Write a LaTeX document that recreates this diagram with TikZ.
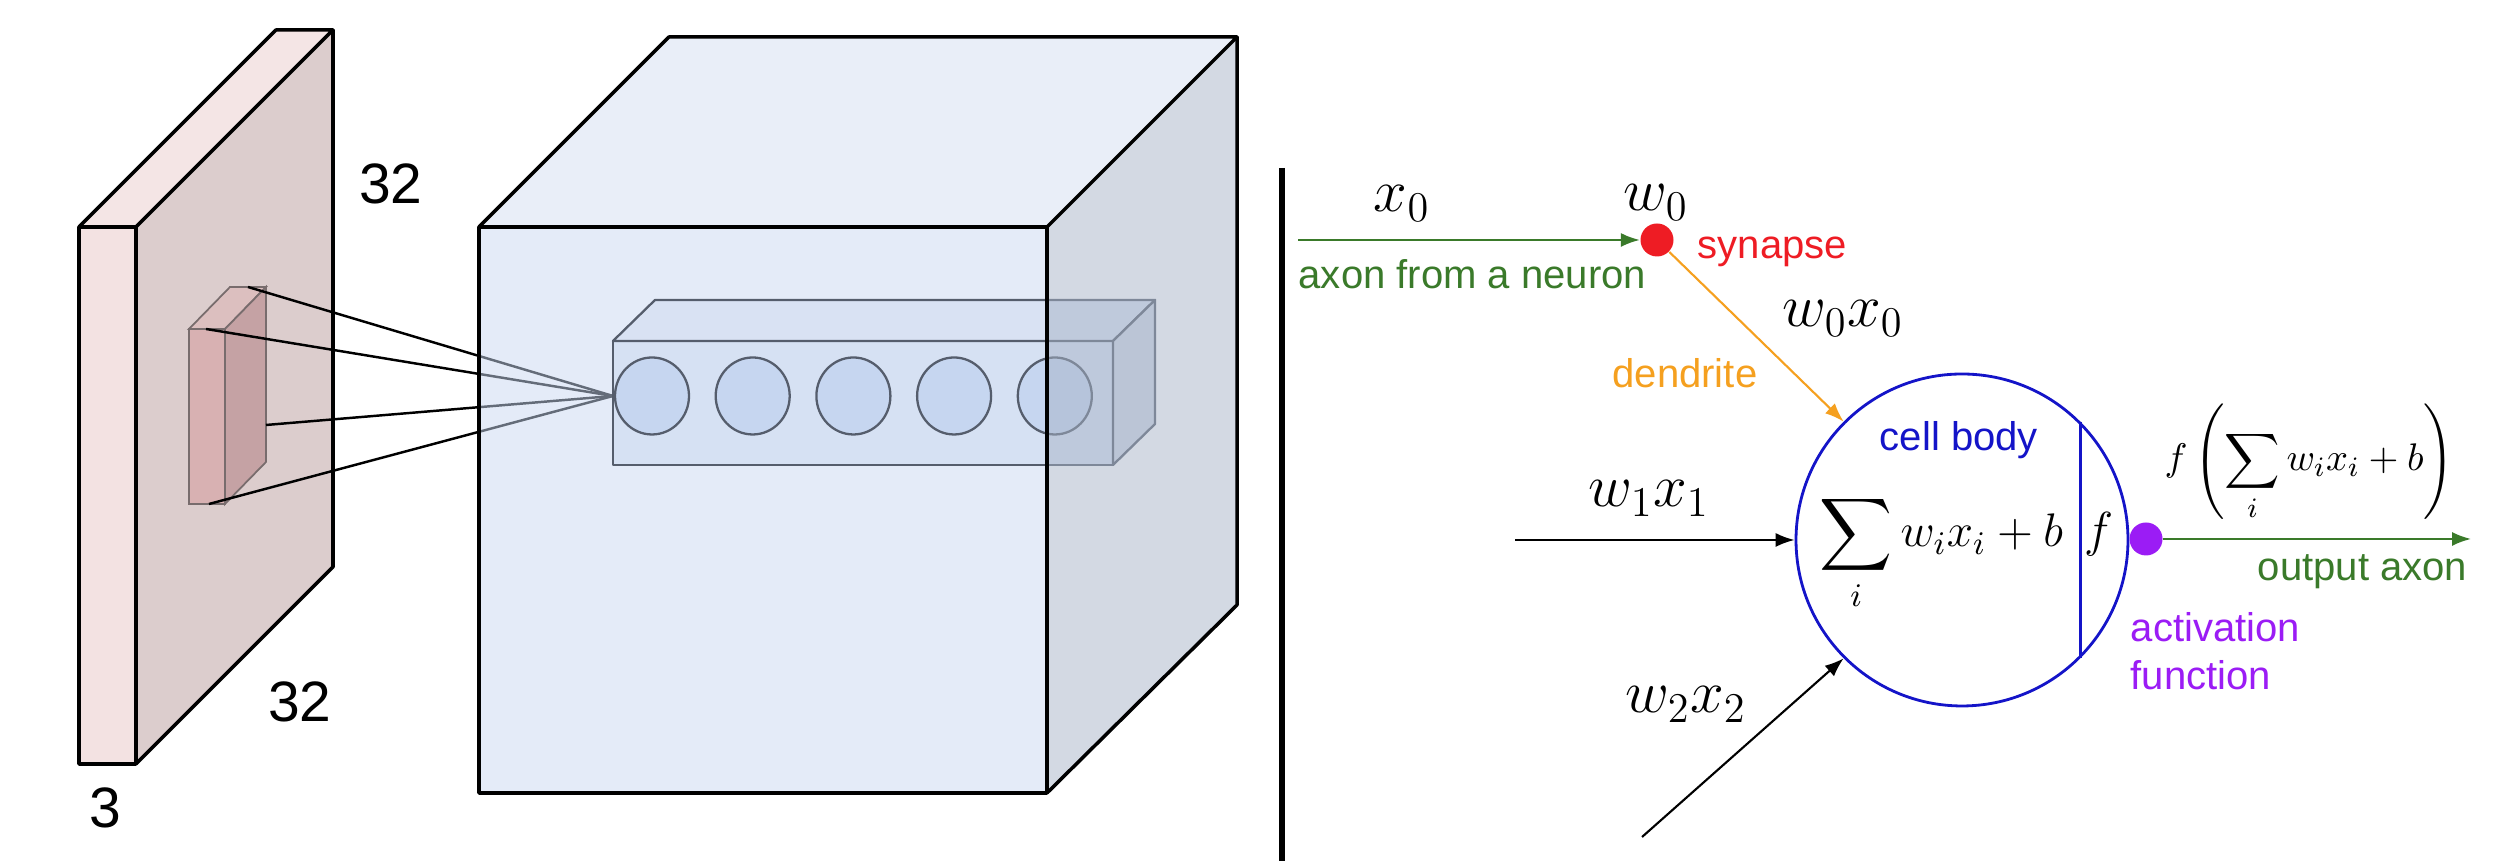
\RequirePackage{fix-cm}
\documentclass[tikz,border=0pt]{standalone}
\usepackage{amsmath}
\usepackage{fontspec}
\usepackage{tikz}
\usetikzlibrary{arrows.meta,positioning,calc}
\newfontfamily\labelsans{Liberation Sans}
\definecolor{slabFront}{HTML}{F3E2E2}
\definecolor{slabTop}{HTML}{F4E5E5}
\definecolor{slabSide}{HTML}{DCCDCD}
\definecolor{fieldFront}{HTML}{D8B1B2}
\definecolor{fieldTop}{HTML}{DCBFBF}
\definecolor{fieldSide}{HTML}{C5A2A4}
\definecolor{fieldEdge}{HTML}{786C6D}
\definecolor{cubeFront}{HTML}{C9D8F2}
\definecolor{cubeTop}{HTML}{D3DDF1}
\definecolor{cubeSide}{HTML}{A7B3C7}
\definecolor{rowFront}{HTML}{D6E1F3}
\definecolor{rowTop}{HTML}{D9E2F3}
\definecolor{rowSide}{HTML}{D0D8E6}
\definecolor{unitFill}{HTML}{C6D6F0}
\definecolor{rowEdge}{HTML}{555D6C}
\definecolor{axonGreen}{HTML}{3A7A2A}
\definecolor{synRed}{HTML}{EE1C24}
\definecolor{dendOrange}{HTML}{F5A01F}
\definecolor{bodyBlue}{HTML}{1414C8}
\definecolor{actPurple}{HTML}{9B1CF5}

\begin{document}
\begin{tikzpicture}[x=0.1cm,y=0.1cm,
  edge/.style={draw=black,line width=1pt,line join=round},
  unit/.style={draw=rowEdge,line width=0.65pt,line join=round},
  wire/.style={line width=0.7pt},
  sans/.style={font=\labelsans\fontsize{11.4}{13.6}\selectfont,inner sep=0pt},
  dimlbl/.style={font=\labelsans\fontsize{16.2}{19}\selectfont,inner sep=0pt,anchor=base},
  mathlbl/.style={font=\fontsize{17.2}{20}\selectfont,inner sep=0pt,anchor=base},
  dot/.style={circle,inner sep=0pt,minimum size=0.33cm},
  feed/.style={line width=0.6pt,-{Latex[length=5.4pt,width=4pt]}}]
\useasboundingbox (0,0) rectangle (251.9,86.3);
% input volume
\fill[slabFront] (7.9,9.9) rectangle (13.6,63.6);
\fill[slabTop] (7.9,63.6) -- (13.6,63.6) -- (33.3,83.3) -- (27.6,83.3) -- cycle;
\fill[slabSide] (13.6,63.6) -- (33.3,83.3) -- (33.3,29.6) -- (13.6,9.9) -- cycle;
\draw[edge] (7.9,9.9) rectangle (13.6,63.6);
\draw[edge] (7.9,63.6) -- (27.6,83.3) -- (33.3,83.3) -- (13.6,63.6);
\draw[edge] (33.3,83.3) -- (33.3,29.6) -- (13.6,9.9);
\node[dimlbl] (sideH) at (39.1,65.9) {32};
\node[dimlbl] (sideW) at (30.0,14.1) {32};
\node[dimlbl] (sideD) at (10.5,3.5) {3};
% receptive field
\filldraw[fill=fieldFront,draw=fieldEdge,line width=0.5pt] (18.9,35.9) rectangle (22.5,53.4);
\filldraw[fill=fieldTop,draw=fieldEdge,line width=0.5pt] (18.9,53.4) -- (22.5,53.4) -- (26.6,57.6) -- (23.0,57.6) -- cycle;
\filldraw[fill=fieldSide,draw=fieldEdge,line width=0.5pt] (22.5,53.4) -- (26.6,57.6) -- (26.6,40.1) -- (22.5,35.9) -- cycle;
\coordinate (fa) at (20.6,53.4);
\coordinate (fb) at (24.8,57.6);
\coordinate (fc) at (26.6,43.8);
\coordinate (fd) at (20.9,35.9);
\coordinate (focus) at (61.3,46.7);
\draw[wire] (fa) -- (focus);
\draw[wire] (fb) -- (focus);
\draw[wire] (fc) -- (focus);
\draw[wire] (fd) -- (focus);
% output volume
\fill[cubeFront,fill opacity=0.5] (47.9,7.0) rectangle (104.7,63.6);
\filldraw[unit,fill=rowFront] (61.3,39.8) rectangle (111.3,52.2);
\filldraw[unit,fill=rowTop] (61.3,52.2) -- (111.3,52.2) -- (115.5,56.3) -- (65.5,56.3) -- cycle;
\filldraw[unit,fill=rowSide] (111.3,52.2) -- (115.5,56.3) -- (115.5,43.9) -- (111.3,39.8) -- cycle;
\foreach \k in {0,...,4}
  \filldraw[unit,fill=unitFill] (65.2+10.07*\k,46.7) ellipse [x radius=3.7,y radius=3.85];
\fill[cubeTop,fill opacity=0.5] (47.9,63.6) -- (66.9,82.6) -- (123.7,82.6) -- (104.7,63.6) -- cycle;
\fill[cubeSide,fill opacity=0.5] (104.7,63.6) -- (123.7,82.6) -- (123.7,25.8) -- (104.7,7.0) -- cycle;
\draw[edge] (47.9,7.0) rectangle (104.7,63.6);
\draw[edge] (47.9,63.6) -- (66.9,82.6) -- (123.7,82.6) -- (104.7,63.6);
\draw[edge] (123.7,82.6) -- (123.7,25.8) -- (104.7,7.0);
% separator
\draw[line width=1.6pt] (128.2,69.5) -- (128.2,0.2);
% neuron
\node[dot,fill=synRed] (syn) at (165.7,62.3) {};
\coordinate (axonIn) at (129.8,62.3);
\draw[feed,draw=axonGreen,fill=axonGreen] (axonIn) -- (syn);
\node[mathlbl] (x0) at (140.2,65.1) {$x_0$};
\node[mathlbl] (w0) at (165.6,65.2) {$w_0$};
\node[sans,anchor=base west,text=axonGreen] (axonLbl) at (129.8,57.4) {axon from a neuron};
\node[sans,anchor=base west,text=synRed] (synLbl) at (169.7,60.4) {synapse};
\node[circle,draw=bodyBlue,line width=0.8pt,minimum size=3.32cm,inner sep=0pt] (cell) at (196.2,32.3) {};
\draw[feed,draw=dendOrange,fill=dendOrange] (syn) -- (cell.135);
\node[mathlbl] (w0x0) at (184.3,53.6) {$w_0x_0$};
\node[sans,anchor=base east,text=dendOrange] (dendLbl) at (175.8,47.5) {dendrite};
\draw[bodyBlue,line width=0.8pt] (cell.45) -- (cell.-45);
\node[sans,anchor=base,text=bodyBlue] (bodyLbl) at (195.9,41.2) {cell body};
\node[font=\fontsize{13.4}{16}\selectfont,inner sep=0pt,anchor=base west] (sumLbl) at (181.9,31.6) {$\displaystyle\sum_i w_ix_i+b$};
\node[font=\fontsize{14}{17}\selectfont,inner sep=0pt,anchor=base] (fLbl) at (209.9,31.6) {$f$};
\node[dot,fill=actPurple] (act) at (214.6,32.4) {};
\coordinate (axonOut) at (247.1,32.4);
\draw[feed,draw=axonGreen,fill=axonGreen] (act) -- (axonOut);
\node[font=\fontsize{10.95}{14}\selectfont,inner sep=0pt,anchor=base west] (outLbl) at (216.4,39.2) {$\displaystyle f\left(\sum_i w_ix_i+b\right)$};
\node[sans,anchor=base east,text=axonGreen] (outAxonLbl) at (246.8,28.2) {output axon};
\node[sans,anchor=north west,align=left,text=actPurple,font=\labelsans\fontsize{11.4}{13.6}\selectfont] (actLbl) at (213.0,25.1) {activation\\function};
\coordinate (in1) at (151.5,32.3);
\draw[feed] (in1) -- (cell.west);
\node[mathlbl] (w1x1) at (164.9,35.6) {$w_1x_1$};
\coordinate (in2) at (164.2,2.6);
\draw[feed] (in2) -- (cell.225);
\node[mathlbl] (w2x2) at (168.6,15.0) {$w_2x_2$};
\end{tikzpicture}
\end{document}
